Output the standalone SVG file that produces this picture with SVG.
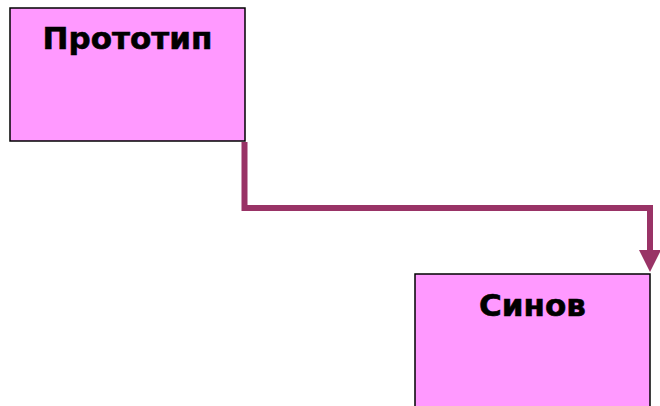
<svg xmlns="http://www.w3.org/2000/svg" width="660" height="406" viewBox="0 0 660 406">
<style>
.box{fill:#FF99FF;stroke:#000;stroke-width:1.5}
.lbl{font-family:"DejaVu Sans",Verdana,sans-serif;font-weight:bold;font-size:31px;fill:#000;stroke:#000;stroke-width:0.6;text-anchor:middle}
.conn{fill:none;stroke:#993366;stroke-width:6}
.head{fill:#993366}
</style>
<rect width="660" height="406" fill="#fff"/>
<g id="node-prototip">
<rect class="box" x="10" y="8" width="235" height="133"/>
<text class="lbl" x="127.5" y="49">Прототип</text>
</g>
<g id="node-sinov">
<rect class="box" x="415" y="274" width="235" height="140"/>
<text class="lbl" x="532.5" y="316">Синов</text>
</g>
<g id="connectors">
<path d="M244.5,142 V208 H650 V250" class="conn"/>
<path class="head" d="M639,250 L661,250 L650,272 Z"/>
</g>
</svg>
